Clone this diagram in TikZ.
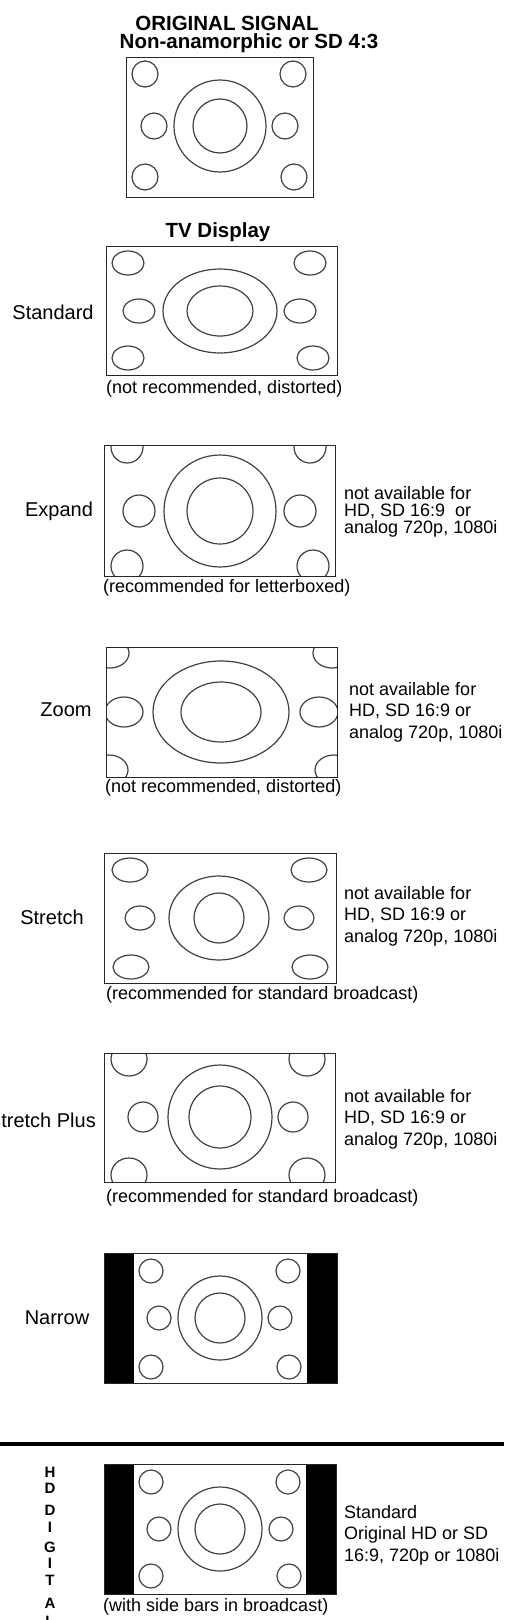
\documentclass[tikz,border=0pt]{standalone}
\usepackage{fontspec}
\setmainfont{Liberation Sans}
\begin{document}
\begin{tikzpicture}[x=1pt,y=-1pt,
  frame/.style={draw=black!85,line width=1pt},
  ring/.style={draw=black!75,line width=1.2pt},
  sidebar/.style={fill=black},
  heading/.style={font=\fontsize{20.5}{22}\selectfont\bfseries,inner sep=0pt},
  modename/.style={font=\fontsize{20}{24}\selectfont,inner sep=0pt},
  remark/.style={font=\fontsize{18}{22}\selectfont,inner sep=0pt,anchor=west},
  sidenote/.style={font=\fontsize{18}{21.5}\selectfont,inner sep=0pt,anchor=west,align=left},
  letter/.style={font=\fontsize{15}{15}\selectfont\bfseries,inner sep=0pt}]
\useasboundingbox (0,0) rectangle (504,1620);

% original signal
\node[heading] (Title1) at (227,23) {ORIGINAL SIGNAL};
\node[heading] (Title2) at (249,43) {Non-anamorphic or SD 4:3};
\draw[frame] (126,57) rectangle (313,197);
\draw[ring] (145,74) circle (13);
\draw[ring] (293,74) circle (13);
\draw[ring] (154,126) circle (13);
\draw[ring] (285,126) circle (13);
\draw[ring] (145,177) circle (13);
\draw[ring] (294,177) circle (13);
\draw[ring] (220,126) circle (46);
\draw[ring] (220,126) circle (27);

% standard
\node[heading] (TVDisplay) at (218,232) {TV Display};
\node[modename] (Standard) at (53,312) {Standard};
\draw[frame] (106,246) rectangle (337,375);
\draw[ring] (128,263) ellipse [x radius=16,y radius=12];
\draw[ring] (310,263) ellipse [x radius=16,y radius=12];
\draw[ring] (139,311) ellipse [x radius=16,y radius=12];
\draw[ring] (300,311) ellipse [x radius=16,y radius=12];
\draw[ring] (128,358) ellipse [x radius=16,y radius=12];
\draw[ring] (313,358) ellipse [x radius=16,y radius=12];
\draw[ring] (220,311) ellipse [x radius=57,y radius=42];
\draw[ring] (220,311) ellipse [x radius=33,y radius=25];
\node[remark] (StandardNote) at (106,389) {(not recommended, distorted)};

% expand
\node[modename] (Expand) at (59,511) {Expand};
\begin{scope}
  \clip (104,445) rectangle (335,576);
  \draw[ring] (127,447) circle (16);
  \draw[ring] (310,447) circle (16);
  \draw[ring] (139,511) circle (16);
  \draw[ring] (300,511) circle (16);
  \draw[ring] (127,566) circle (16);
  \draw[ring] (313,566) circle (16);
  \draw[ring] (220,511) circle (56);
  \draw[ring] (220,511) circle (33);
\end{scope}
\draw[frame] (104,445) rectangle (335,576);
\node[sidenote,font=\fontsize{18}{16.7}\selectfont] (ExpandSide) at (344,512)
  {not available for\\HD, SD 16:9~ or\\analog 720p, 1080i};
\node[remark] (ExpandNote) at (103,588) {(recommended for letterboxed)};

% zoom
\node[modename] (Zoom) at (66,710) {Zoom};
\begin{scope}
  \clip (106,647) rectangle (337,777);
  \draw[ring] (110,653) ellipse [x radius=19,y radius=15];
  \draw[ring] (332,653) ellipse [x radius=19,y radius=15];
  \draw[ring] (124,712) ellipse [x radius=19,y radius=15];
  \draw[ring] (319,712) ellipse [x radius=19,y radius=15];
  \draw[ring] (109,770) ellipse [x radius=19,y radius=15];
  \draw[ring] (334,770) ellipse [x radius=19,y radius=15];
  \draw[ring] (221,712) ellipse [x radius=68,y radius=51];
  \draw[ring] (221,712) ellipse [x radius=40,y radius=30];
\end{scope}
\draw[frame] (106,647) rectangle (337,777);
\node[sidenote] (ZoomSide) at (349,712)
  {not available for\\HD, SD 16:9 or\\analog 720p, 1080i};
\node[remark] (ZoomNote) at (105,788) {(not recommended, distorted)};

% stretch
\node[modename] (Stretch) at (52,917) {Stretch};
\draw[frame] (104,853) rectangle (336,983);
\draw[ring] (130,870) ellipse [x radius=18,y radius=12];
\draw[ring] (309,870) ellipse [x radius=18,y radius=12];
\draw[ring] (140,918) ellipse [x radius=15,y radius=12];
\draw[ring] (299,918) ellipse [x radius=15,y radius=12];
\draw[ring] (131,967) ellipse [x radius=18,y radius=12];
\draw[ring] (310,967) ellipse [x radius=18,y radius=12];
\draw[ring] (219,918) ellipse [x radius=50,y radius=42];
\draw[ring] (219,918) circle (25);
\node[sidenote] (StretchSide) at (344,916)
  {not available for\\HD, SD 16:9 or\\analog 720p, 1080i};
\node[remark] (StretchNote) at (106,995) {(recommended for standard broadcast)};

% stretch plus
\node[modename,anchor=east] (StretchPlus) at (96,1120) {Stretch Plus};
\begin{scope}
  \clip (104,1053) rectangle (335,1182);
  \draw[ring] (129,1059) ellipse [x radius=18,y radius=17];
  \draw[ring] (307,1059) ellipse [x radius=18,y radius=17];
  \draw[ring] (143,1117) circle (15);
  \draw[ring] (293,1117) circle (15);
  \draw[ring] (129,1175) ellipse [x radius=18,y radius=17];
  \draw[ring] (307,1175) ellipse [x radius=18,y radius=17];
  \draw[ring] (220,1117) circle (52);
  \draw[ring] (220,1117) circle (31);
\end{scope}
\draw[frame] (104,1053) rectangle (335,1182);
\node[sidenote] (StretchPlusSide) at (344,1119)
  {not available for\\HD, SD 16:9 or\\analog 720p, 1080i};
\node[remark] (StretchPlusNote) at (106,1198) {(recommended for standard broadcast)};

% narrow
\node[modename] (Narrow) at (57,1318) {Narrow};
\fill[sidebar] (104,1253) rectangle (134,1383);
\fill[sidebar] (307,1253) rectangle (337,1383);
\draw[frame] (104,1253) rectangle (337,1383);
\draw[ring] (151,1271) circle (12);
\draw[ring] (288,1271) circle (12);
\draw[ring] (159,1318) circle (12);
\draw[ring] (280,1318) circle (12);
\draw[ring] (151,1367) circle (12);
\draw[ring] (289,1367) circle (12);
\draw[ring] (220,1318) circle (42);
\draw[ring] (220,1318) circle (25);

% divider
\coordinate (RuleW) at (0,1444);
\coordinate (RuleE) at (504,1444);
\draw[line width=4.5pt] (RuleW) -- (RuleE);

% hd digital
\node[letter] (LetterH) at (50,1472) {H};
\node[letter] (LetterD1) at (50,1488) {D};
\node[letter] (LetterD2) at (50,1510) {D};
\node[letter] (LetterI1) at (50,1527) {I};
\node[letter] (LetterG) at (50,1547) {G};
\node[letter] (LetterI2) at (50,1563) {I};
\node[letter] (LetterT) at (50,1580) {T};
\node[letter] (LetterA) at (50,1603) {A};
\node[letter] (LetterL) at (50,1621) {L};
\fill[sidebar] (104,1464) rectangle (134,1594);
\fill[sidebar] (306,1464) rectangle (336,1594);
\draw[frame] (104,1464) rectangle (336,1594);
\draw[ring] (151,1482) circle (12);
\draw[ring] (288,1482) circle (12);
\draw[ring] (159,1529) circle (12);
\draw[ring] (281,1529) circle (12);
\draw[ring] (151,1576) circle (12);
\draw[ring] (289,1576) circle (12);
\draw[ring] (220,1529) circle (42);
\draw[ring] (220,1529) circle (25);
\node[sidenote] (HDSide) at (344,1535)
  {Standard\\Original HD or SD\\16:9, 720p or 1080i};
\node[remark] (HDNote) at (103,1607) {(with side bars in broadcast)};
\end{tikzpicture}
\end{document}
